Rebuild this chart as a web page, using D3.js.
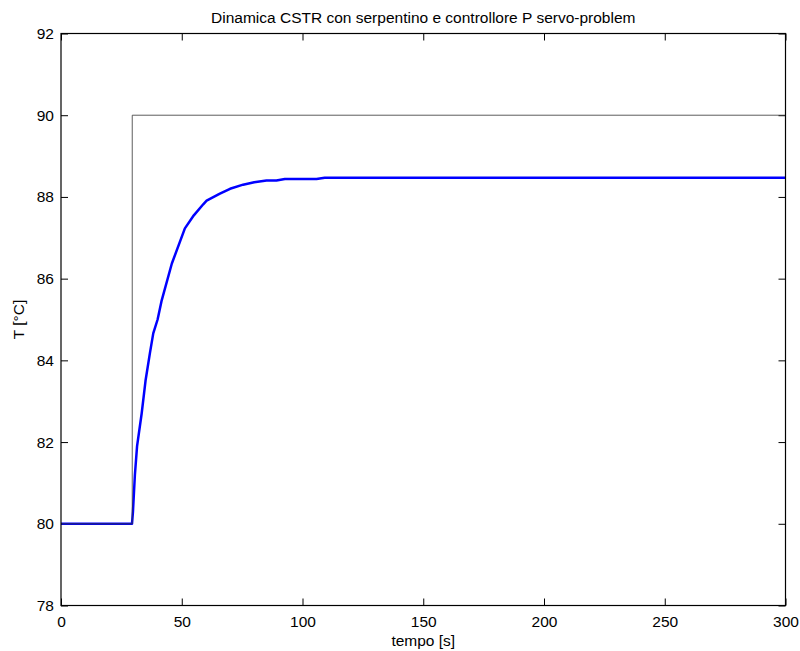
<!DOCTYPE html>
<html>
<head>
<meta charset="utf-8">
<script src="https://cdn.jsdelivr.net/npm/d3@7"></script>
<style>
  html, body { margin: 0; padding: 0; background: #fff; }
  svg { display: block; }
  text { font-family: "Liberation Sans", Arial, sans-serif; fill: #000; }
</style>
</head>
<body>
<div id="chart"></div>
<script>
// ---- Data ----
const title = "Dinamica CSTR con serpentino e controllore P servo-problem";
const xLabel = "tempo [s]";
const yLabel = "T [°C]";

const xTicks = [0, 50, 100, 150, 200, 250, 300];
const yTicks = [78, 80, 82, 84, 86, 88, 90, 92];

// set-point (reference) signal
const setpointTime = [0, 29.5, 29.5, 300];
const setpointTemp = [80, 80, 90, 90];

// controlled temperature response
const respTime = [0, 29.4, 29.8, 30.6, 31.5, 33.4, 35, 36.8, 38.2, 40, 41.7, 45.9, 51.3, 55, 58.9, 60.3, 65.8, 70, 75.4, 80, 85.1, 89.2, 92.7, 105.8, 109.2, 300];
const respTemp = [80, 80, 80.3, 81.2, 81.9, 82.7, 83.5, 84.17, 84.66, 85.0, 85.47, 86.37, 87.23, 87.55, 87.82, 87.91, 88.08, 88.2, 88.30, 88.36, 88.40, 88.40, 88.44, 88.44, 88.47, 88.47];

// ---- Layout ----
const W = 800, H = 651;
const mLeft = 61, mRight = 785.5, mTop = 33.5, mBottom = 605.5;

const svg = d3.select("#chart").append("svg").attr("width", W).attr("height", H);

const x = d3.scaleLinear().domain([0, 300]).range([mLeft, mRight]);
const y = d3.scaleLinear().domain([78, 92]).range([mBottom, mTop]);

const fs = 15.5;
const tickLen = 7;

// axes (ticks inward, on all four sides)
const axB = d3.axisBottom(x).tickValues(xTicks).tickSizeInner(-tickLen).tickSizeOuter(0).tickPadding(10).tickFormat(d3.format("d"));
const axT = d3.axisTop(x).tickValues(xTicks).tickSizeInner(-tickLen).tickSizeOuter(0).tickFormat("");
const axL = d3.axisLeft(y).tickValues(yTicks).tickSizeInner(-tickLen).tickSizeOuter(0).tickPadding(7).tickFormat(d3.format("d"));
const axR = d3.axisRight(y).tickValues(yTicks).tickSizeInner(-tickLen).tickSizeOuter(0).tickFormat("");

function styleAxis(g) {
  g.select(".domain").remove();
  g.selectAll(".tick line").attr("stroke", "#000").attr("stroke-width", 1);
  g.selectAll(".tick text").attr("font-size", fs).attr("font-family", "Liberation Sans, Arial, sans-serif").attr("fill", "#000");
}

svg.append("g").attr("transform", `translate(0,${mBottom})`).call(axB).call(styleAxis);
svg.append("g").attr("transform", `translate(0,${mTop})`).call(axT).call(styleAxis);
svg.append("g").attr("transform", `translate(${mLeft},0)`).call(axL).call(styleAxis);
svg.append("g").attr("transform", `translate(${mRight},0)`).call(axR).call(styleAxis);

// response line
const respData = respTime.map((t, i) => [t, respTemp[i]]);
const line = d3.line().x(d => x(d[0])).y(d => y(d[1]));
svg.append("path").datum(respData)
  .attr("d", line).attr("fill", "none")
  .attr("stroke", "#0000ff").attr("stroke-width", 2.5)
  .attr("stroke-linejoin", "round");

// set-point line
const spData = setpointTime.map((t, i) => [t, setpointTemp[i]]);
svg.append("path").datum(spData)
  .attr("d", line).attr("fill", "none")
  .attr("stroke", "#333").attr("stroke-width", 0.8);

// box
svg.append("rect").attr("x", mLeft).attr("y", mTop)
  .attr("width", mRight - mLeft).attr("height", mBottom - mTop)
  .attr("fill", "none").attr("stroke", "#000").attr("stroke-width", 1.2);

// labels
svg.append("text").attr("x", (mLeft + mRight) / 2).attr("y", 23)
  .attr("text-anchor", "middle").attr("font-size", fs).text(title);
svg.append("text").attr("x", (mLeft + mRight) / 2).attr("y", 646)
  .attr("text-anchor", "middle").attr("font-size", fs).text(xLabel);
svg.append("text").attr("transform", `translate(24,${(mTop + mBottom) / 2}) rotate(-90)`)
  .attr("text-anchor", "middle").attr("font-size", fs).text(yLabel);
</script>
</body>
</html>
